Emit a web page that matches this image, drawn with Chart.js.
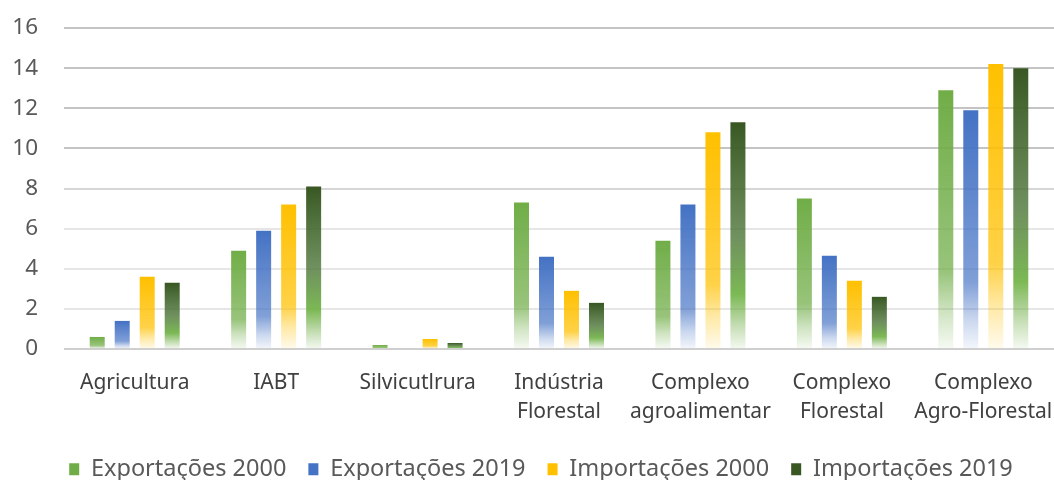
<!DOCTYPE html>
<html><head><meta charset="utf-8">
<script src="https://cdn.jsdelivr.net/npm/chart.js@4"></script>
<style>html,body{margin:0;padding:0;background:#fff}#wrap{width:1054px;height:480px}</style>
</head><body><div id="wrap"><canvas id="c" width="1054" height="480"></canvas></div>
<script>
const categories = [["Agricultura"],["IABT"],["Silvicutlrura"],["Indústria","Florestal"],["Complexo","agroalimentar"],["Complexo","Florestal"],["Complexo","Agro-Florestal"]];
const seriesNames = ["Exportações 2000","Exportações 2019","Importações 2000","Importações 2019"];
const exp2000 = [0.6, 4.9, 0.2, 7.3, 5.4, 7.5, 12.9];
const exp2019 = [1.4, 5.9, 0, 4.6, 7.2, 4.65, 11.9];
const imp2000 = [3.6, 7.2, 0.5, 2.9, 10.8, 3.4, 14.2];
const imp2019 = [3.3, 8.1, 0.3, 2.3, 11.3, 2.6, 14.0];
const yTicks = [0,2,4,6,8,10,12,14,16];

const solid = ["#70AD47","#4472C4","#FFC000","#385723"];
const stops = [
  [[0,"rgba(112,173,71,1)"],[0.7,"rgba(112,173,71,0.72)"],[0.85,"rgba(112,173,71,0.35)"],[1,"rgba(112,173,71,0.06)"]],
  [[0,"rgba(68,114,196,1)"],[0.72,"rgba(68,114,196,0.68)"],[0.88,"rgba(68,114,196,0.28)"],[1,"rgba(68,114,196,0.06)"]],
  [[0,"rgba(255,192,0,1)"],[0.7,"rgba(255,192,0,0.72)"],[0.85,"rgba(255,192,0,0.35)"],[1,"rgba(255,192,0,0.07)"]],
  [[0,"rgba(56,87,35,1)"],[0.5,"rgba(80,120,60,0.82)"],[0.76,"rgba(110,178,66,0.9)"],[0.9,"rgba(112,173,71,0.4)"],[1,"rgba(112,173,71,0.07)"]]
];
function grad(i){
  return function(ctx){
    const chart = ctx.chart;
    if(!chart.chartArea || !ctx.parsed) return solid[i];
    const ys = chart.scales.y;
    const top = ys.getPixelForValue(ctx.parsed.y);
    const bot = ys.getPixelForValue(0);
    if(!(bot-top>0.5)) return solid[i];
    const g = chart.ctx.createLinearGradient(0, top, 0, bot);
    stops[i].forEach(s=>g.addColorStop(s[0], s[1]));
    return g;
  };
}
const all = [exp2000, exp2019, imp2000, imp2019];
const gridColor = v => v>=10 ? "#C4C4C4" : (v===8 ? "#D6D6D6" : (v===0 ? "#CFCFCF" : "#E6E6E6"));

const legendShift = { id: 'legendShift', afterLayout(chart){ const L = chart.legend; if(L){ L.left += 14; L.right += 14; } } };

new Chart(document.getElementById('c'), {
  type: 'bar',
  data: {
    labels: categories,
    datasets: all.map((d,i)=>({
      label: seriesNames[i],
      data: d,
      backgroundColor: grad(i),
      borderWidth: 0,
      categoryPercentage: 0.707,
      barPercentage: 0.6
    }))
  },
  plugins: [legendShift],
  options: {
    responsive: false,
    animation: false,
    devicePixelRatio: 1,
    layout: { padding: { top: 28, right: 0, left: 0, bottom: -11 } },
    scales: {
      y: {
        min: 0, max: 16,
        afterBuildTicks: s => { s.ticks = yTicks.map(v=>({value:v})); },
        border: { display: false },
        grid: { color: c => gridColor(c.tick.value), lineWidth: 2, drawTicks: false },
        ticks: { color: "#595959", font: { family: "Noto Sans", size: 22.5 }, padding: 26 },
        afterFit: s => { s.width = 64; s.paddingTop = 0; s.paddingBottom = 0; }
      },
      x: {
        border: { display: false },
        grid: { display: false, drawTicks: false },
        ticks: { color: "#404040", font: { family: "Noto Sans", size: 21, lineHeight: 1.38 }, padding: 19.5, maxRotation: 0, autoSkip: false },
        afterFit: s => { s.height = 86.5; s.paddingLeft = 0; s.paddingRight = 0; }
      }
    },
    plugins: {
      tooltip: { enabled: false },
      legend: {
        position: 'bottom',
        labels: {
          color: "#595959",
          font: { family: "Noto Sans", size: 23.5, lineHeight: 1 },
          boxWidth: 10, boxHeight: 12,
          padding: 22,
          generateLabels: chart => chart.data.datasets.map((ds,i)=>({
            text: ds.label, fillStyle: solid[i], strokeStyle: solid[i], lineWidth: 0, datasetIndex: i, hidden: false, fontColor: "#595959"
          }))
        }
      }
    }
  }
});
</script></body></html>
